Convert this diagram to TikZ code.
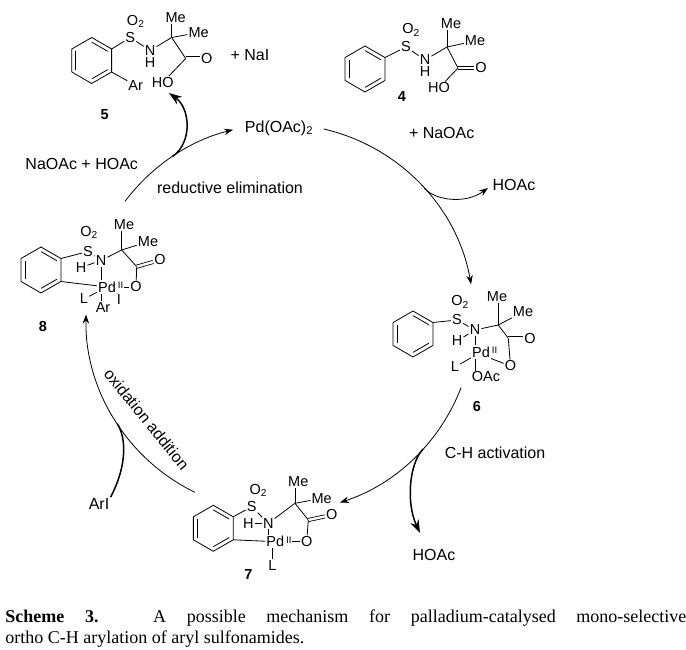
\documentclass[tikz,border=0pt]{standalone}
\usepackage{fontspec}
\setmainfont{Liberation Sans}
\newfontfamily\capfont{Liberation Serif}
\usetikzlibrary{calc,arrows.meta}
\def\benzring(#1)#2{\draw ($(#1)+(-90:23)$) coordinate (#2t) -- ($(#1)+(-30:23)$) coordinate (#2ur) -- ($(#1)+(30:23)$) coordinate (#2lr) -- ($(#1)+(90:23)$) coordinate (#2b) -- ($(#1)+(150:23)$) coordinate (#2ll) -- ($(#1)+(210:23)$) coordinate (#2ul) -- cycle;
\draw ($(#1)!0.8!(#2t)$) -- ($(#1)!0.8!(#2ur)$);
\draw ($(#1)!0.8!(#2lr)$) -- ($(#1)!0.8!(#2b)$);
\draw ($(#1)!0.8!(#2ll)$) -- ($(#1)!0.8!(#2ul)$);}

\begin{document}
\begin{tikzpicture}[x=1pt, y=-1pt, line width=0.8pt, line join=round,
  atom/.style={font=\fontsize{14.5}{15}\selectfont, inner sep=0.8pt},
  ox/.style={font=\fontsize{9.5}{10}\selectfont, inner sep=0pt, anchor=north west},
  num/.style={font=\bfseries\fontsize{14.5}{15}\selectfont, inner sep=1pt},
  txt/.style={font=\fontsize{16}{18}\selectfont, inner sep=1pt},
  dbl/.style={double, double distance=2.4pt, line width=0.8pt},
  arr/.style={-{Stealth[length=9pt,width=6.5pt]}},
  boldarr/.style={line width=1.5pt, -{Stealth[length=13pt,width=9pt]}}]
			%%%%% START %%%%%
			\useasboundingbox (0,0) rectangle (686,650);
			
			% compound 5
			\coordinate (r5) at (91.7,60.5);
			\benzring(r5){r5}
			\node[atom] (S5) at ($(r5)+(38.5,-23)$) {S};
			\node[atom] (O5s) at ($(r5)+(44,-39)$) {O\textsubscript{2}};
			\node[atom] (N5) at ($(r5)+(58.5,-10)$) {N};
			\node[atom] (H5) at ($(r5)+(58.5,2)$) {H};
			\coordinate (C5q) at ($(r5)+(80,-23)$);
			\node[atom] (Me5a) at ($(r5)+(84,-43)$) {Me};
			\node[atom] (Me5b) at ($(r5)+(107,-28)$) {Me};
			\coordinate (C5c) at ($(r5)+(94,-2)$);
			\node[atom] (O5d) at ($(r5)+(115,-2)$) {O};
			\node[atom] (HO5) at ($(r5)+(71,22)$) {HO};
			\node[atom] (Ar5) at ($(r5)+(44,25)$) {Ar};
			\node[num] (n5) at ($(r5)+(13,54)$) {5};
			\draw (r5ur) -- (S5);
			\draw (S5) -- (N5);
			\draw (N5) -- (C5q);
			\draw (C5q) -- (C5q |- Me5a.south);
			\draw (C5q) -- (Me5b);
			\draw (C5q) -- (C5c);
			\draw[dbl] (C5c) -- (O5d);
			\draw (C5c) -- (HO5);
			\draw (r5lr) -- (Ar5);
			\node[txt] (nai) at (250,55) {+ NaI};
			
			% compound 4
			\coordinate (r4) at (365,69);
			\benzring(r4){r4}
			\node[atom] (S4) at ($(r4)+(41,-22)$) {S};
			\node[atom] (O4s) at ($(r4)+(46,-39)$) {O\textsubscript{2}};
			\node[atom] (N4) at ($(r4)+(60,-9)$) {N};
			\node[atom] (H4) at ($(r4)+(60,3)$) {H};
			\coordinate (C4q) at ($(r4)+(82,-22)$);
			\node[atom] (Me4a) at ($(r4)+(86,-45)$) {Me};
			\node[atom] (Me4b) at ($(r4)+(110,-28)$) {Me};
			\coordinate (C4c) at ($(r4)+(93,-1)$);
			\node[atom] (O4d) at ($(r4)+(116,-1)$) {O};
			\node[atom] (HO4) at ($(r4)+(74,19)$) {HO};
			\node[num] (n4) at ($(r4)+(37,28)$) {4};
			\draw (r4ur) -- (S4);
			\draw (S4) -- (N4);
			\draw (N4) -- (C4q);
			\draw (C4q) -- (C4q |- Me4a.south);
			\draw (C4q) -- (Me4b);
			\draw (C4q) -- (C4c);
			\draw[dbl] (C4c) -- (O4d);
			\draw (C4c) -- (HO4);
			
			% compound 6
			\coordinate (r6) at (413,334);
			\benzring(r6){r6}
			\node[atom] (S6) at ($(r6)+(44,-14)$) {S};
			\node[atom] (O6s) at ($(r6)+(47,-32)$) {O\textsubscript{2}};
			\node[atom] (N6) at ($(r6)+(62,-4)$) {N};
			\node[atom] (H6) at ($(r6)+(44,7)$) {H};
			\node[atom] (Pd6) at ($(r6)+(68,18)$) {Pd};
			\node[ox] (Pd6ox) at ($(Pd6.north east)+(0.5,1)$) {II};
			\node[atom] (L6) at ($(r6)+(42,33)$) {L};
			\node[atom] (OAc6) at ($(r6)+(73,43)$) {OAc};
			\node[atom] (O6) at ($(r6)+(97.5,32)$) {O};
			\coordinate (C6q) at ($(r6)+(85.3,-9)$);
			\node[atom] (Me6a) at ($(r6)+(84,-37)$) {Me};
			\node[atom] (Me6b) at ($(r6)+(110,-22)$) {Me};
			\coordinate (C6c) at ($(r6)+(95.3,4.3)$);
			\node[atom] (O6d) at ($(r6)+(117,4.3)$) {O};
			\node[num] (n6) at ($(r6)+(64,73)$) {6};
			\draw (r6ur) -- (S6);
			\draw (S6) -- (N6);
			\draw (H6) -- (N6);
			\draw (N6.south) -- (N6.south |- Pd6.north);
			\draw (L6) -- (Pd6);
			\draw (Pd6.south -| N6) -- (OAc6.north -| N6);
			\draw (Pd6.south east) -- (O6);
			\draw (N6) -- (C6q);
			\draw (C6q) -- (C6q |- Me6a.south);
			\draw (C6q) -- (Me6b);
			\draw (C6q) -- (C6c);
			\draw[dbl] (C6c) -- (O6d);
			\draw (C6c) -- (O6);
			
			% compound 7
			\coordinate (r7) at (213.3,528.3);
			\benzring(r7){r7}
			\node[atom] (S7) at ($(r7)+(38.4,-21.6)$) {S};
			\node[atom] (O7s) at ($(r7)+(45,-38)$) {O\textsubscript{2}};
			\node[atom] (H7) at ($(r7)+(35,-5)$) {H};
			\node[atom] (N7) at ($(r7)+(55,-5)$) {N};
			\node[atom] (Pd7) at ($(r7)+(62,13.4)$) {Pd};
			\node[ox] (Pd7ox) at ($(Pd7.north east)+(0.5,1)$) {II};
			\node[atom] (O7) at ($(r7)+(93.4,13.4)$) {O};
			\node[atom] (L7) at ($(r7)+(59,37)$) {L};
			\coordinate (C7q) at ($(r7)+(81.7,-25)$);
			\node[atom] (Me7a) at ($(r7)+(85,-46.6)$) {Me};
			\node[atom] (Me7b) at ($(r7)+(108.4,-30)$) {Me};
			\coordinate (C7c) at ($(r7)+(95,-8.3)$);
			\node[atom] (O7d) at ($(r7)+(118.4,-13.3)$) {O};
			\node[num] (n7) at ($(r7)+(35,46)$) {7};
			\draw (r7ur) -- (S7);
			\draw (S7) -- (N7);
			\draw (H7) -- (N7);
			\draw (N7.south) -- (N7.south |- Pd7.north);
			\draw (r7lr) -- (Pd7);
			\draw (Pd7.south -| L7) -- (L7);
			\draw (Pd7.east -| Pd7ox.east) -- (O7);
			\draw (N7) -- (C7q);
			\draw (C7q) -- (C7q |- Me7a.south);
			\draw (C7q) -- (Me7b);
			\draw (C7q) -- (C7c);
			\draw[dbl] (C7c) -- (O7d);
			\draw (C7c) -- (O7);
			
			% compound 8
			\coordinate (r8) at (41,270);
			\benzring(r8){r8}
			\node[atom] (S8) at ($(r8)+(47,-18.5)$) {S};
			\node[atom] (O8s) at ($(r8)+(48,-37.5)$) {O\textsubscript{2}};
			\node[atom] (H8) at ($(r8)+(40,-2.5)$) {H};
			\node[atom] (N8) at ($(r8)+(60,-9.5)$) {N};
			\node[atom] (Pd8) at ($(r8)+(66,17)$) {Pd};
			\node[ox] (Pd8ox) at ($(Pd8.north east)+(0.5,1)$) {II};
			\node[atom] (O8) at ($(r8)+(95,17)$) {O};
			\node[atom] (L8) at ($(r8)+(43,29)$) {L};
			\node[atom] (Ar8) at ($(r8)+(62,37.5)$) {Ar};
			\node[atom] (I8) at ($(r8)+(78,30)$) {I};
			\coordinate (C8q) at ($(r8)+(80.7,-20)$);
			\node[atom] (Me8a) at ($(r8)+(83,-45)$) {Me};
			\node[atom] (Me8b) at ($(r8)+(107,-28.3)$) {Me};
			\coordinate (C8c) at ($(r8)+(95.7,-3.3)$);
			\node[atom] (O8d) at ($(r8)+(119,-10)$) {O};
			\node[num] (n8) at ($(r8)+(2,57)$) {8};
			\draw (r8ur) -- (S8);
			\draw (S8) -- (N8);
			\draw (H8) -- (N8);
			\draw (N8.south) -- (N8.south |- Pd8.north);
			\draw (r8lr) -- (Pd8);
			\draw (L8) -- (Pd8);
			\draw (Pd8.south -| N8) -- (Ar8.north -| N8);
			\draw (Pd8.south east) -- (I8);
			\draw (Pd8.east -| Pd8ox.east) -- (O8);
			\draw (N8) -- (C8q);
			\draw (C8q) -- (C8q |- Me8a.south);
			\draw (C8q) -- (Me8b);
			\draw (C8q) -- (C8c);
			\draw[dbl] (C8c) -- (O8d);
			\draw (C8c) -- (O8);
			
			% cycle
			\coordinate (cyc) at (280,318);
			\node[txt] (pdoac) at (279,128) {Pd(OAc)\textsubscript{2}};
			\draw[arr] ($(cyc)+(-77:194)$) arc[start angle=-77, end angle=-10, radius=194];
			\draw[arr] ($(cyc)+(21:194)$) arc[start angle=21, end angle=72, radius=194];
			\draw[arr] ($(cyc)+(116:194)$) arc[start angle=116, end angle=181, radius=194];
			\draw[arr] ($(cyc)+(217:194)$) arc[start angle=217, end angle=256, radius=194];
			
			\node[txt] (naoac) at (81.7,164) {NaOAc + HOAc};
			\node[txt] (redel) at (230,188) {reductive elimination};
			\node[txt] (plusnaoac) at (441.7,133.3) {+ NaOAc};
			\node[txt] (hoac1) at (514,185) {HOAc};
			\node[txt] (chact) at (495,453) {C-H activation};
			\node[txt] (hoac2) at (434,555) {HOAc};
			\node[txt] (ari) at (99,504) {ArI};
			\node[txt, rotate=-51] (oxadd) at (146.7,419) {oxidation addition};
			
			\coordinate (b5) at ($(cyc)+(236.4:194)$);
			\coordinate (t5) at (169,93);
			\draw[boldarr] (b5) .. controls (193,142) and (190,108) .. (t5);
			\coordinate (b1) at ($(cyc)+(-42:194)$);
			\coordinate (t1) at (488,188);
			\draw[arr] (b1) .. controls (436,201) and (466,204) .. (t1);
			\coordinate (b2) at ($(cyc)+(42.5:194)$);
			\coordinate (t2) at (420,533);
			\draw[boldarr] (b2) .. controls (409,464) and (406,503) .. (t2);
			\coordinate (b3) at ($(cyc)+(147:194)$);
			\draw[line width=1.5pt] (ari.north east) .. controls (125,470) and (128,441) .. (b3);
			
			% caption
			\node[anchor=base west, inner sep=0, font=\capfont\fontsize{18}{20}\selectfont] (cap1) at (5,622) {\makebox[681pt][s]{\textbf{Scheme 3.} A possible mechanism for palladium-catalysed mono-selective}};
			\node[anchor=base west, inner sep=0, font=\capfont\fontsize{18}{20}\selectfont] (cap2) at (5,643) {ortho C-H arylation of aryl sulfonamides.};
			
			%%%%% END %%%%%
\end{tikzpicture}
\end{document}
